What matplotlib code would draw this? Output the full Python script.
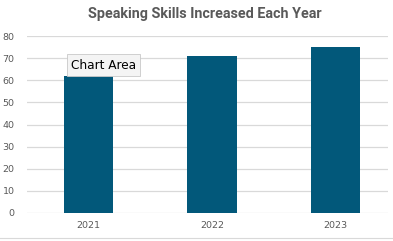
import matplotlib.pyplot as plt
import numpy as np
from matplotlib.lines import Line2D

# data
years = ['2021', '2022', '2023']
scores = [62, 71, 75]
yticks = [0, 10, 20, 30, 40, 50, 60, 70, 80]

bar_col = '#02587a'
txt_col = '#595959'

fig = plt.figure(figsize=(3.93, 2.41), dpi=100)
ax = fig.add_axes([0.0687, 0.1162, 0.9183, 0.7344])

x = np.arange(len(years))
ax.bar(x, scores, width=0.4, color=bar_col, zorder=3)

ax.set_ylim(0, 80)
ax.set_xlim(-0.5, 2.425)
ax.set_yticks(yticks)
ax.set_xticks(x)
ax.set_xticklabels(years)
ax.yaxis.grid(True, color='#d9d9d9', linewidth=0.9, zorder=0)
for s in ax.spines.values():
    s.set_visible(False)
ax.tick_params(axis='both', length=0, labelsize=6.8, labelcolor=txt_col)
ax.tick_params(axis='y', pad=9)
ax.tick_params(axis='x', pad=6)

fig.text(0.521, 0.942, 'Speaking Skills Increased Each Year', ha='center', va='center',
         fontsize=10.4, fontweight='bold', color=txt_col, family='Roboto')

# hover tooltip from the screenshot
ax.text(0.122, 0.835, 'Chart Area', transform=ax.transAxes, fontsize=8.7, color='black',
        va='center', ha='left', zorder=5,
        bbox=dict(boxstyle='square,pad=0.35', facecolor='#f4f4f4', edgecolor='#c8c8c8', linewidth=0.6))

# light border line at bottom of the chart area
fig.add_artist(Line2D([0, 1], [0.012, 0.012], color='#d9d9d9', linewidth=0.8))

fig.savefig('out.png', dpi=100)
